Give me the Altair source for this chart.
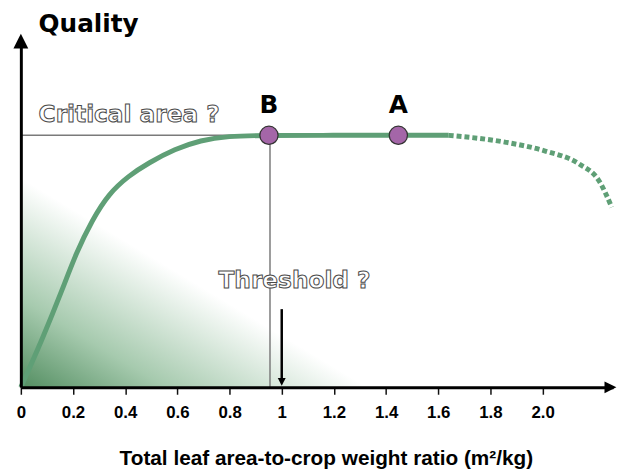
import altair as alt
import pandas as pd

# ---- data ----
solid_x = [0, 0.083, 0.159, 0.212, 0.273, 0.337, 0.413, 0.489, 0.591, 0.689, 0.792, 0.939, 1.2, 1.44, 1.64]
solid_y = [0, 0.139, 0.280, 0.385, 0.479, 0.555, 0.606, 0.643, 0.683, 0.708, 0.720, 0.722, 0.722, 0.722, 0.722]
dash_x = [1.64, 1.86, 2.01, 2.14, 2.216, 2.265]
dash_y = [0.722, 0.702, 0.677, 0.640, 0.592, 0.516]

point_names = ["B", "A"]
point_x = [0.951, 1.447]
point_y = [0.722, 0.722]
point_label_y = [0.81, 0.81]

shade_x = [0, 1.33]
shade_y = [0.60, 0]

tick_values = [0, 0.2, 0.4, 0.6, 0.8, 1.0, 1.2, 1.4, 1.6, 1.8, 2.0]
x_title = "Total leaf area-to-crop weight ratio (m²/kg)"
y_title = "Quality"
notes = ["Critical area ?", "Threshold ?"]
note_x = [0.068, 1.049]
note_y = [0.779, 0.303]

crit_y = 0.722
thresh_x = 0.955
arrow_x = 1.0
arrow_top = 0.224
arrow_head_y = 0.0156
x_max = 2.27
x_arrow = 2.26
y_arrow = 0.992
title_xy = [0.068, 1.04]

GREEN = "#5f9f76"
FONT_A = "Liberation Sans, Arial, sans-serif"
FONT_B = "DejaVu Sans"

xaxis = alt.Axis(
    values=tick_values,
    labelExpr="datum.value == 0 ? '0' : datum.value == 1 ? '1' : format(datum.value, '.1f')",
    domainColor="black", domainWidth=3,
    tickColor="#111", tickWidth=1.5, tickSize=7,
    labelFont=FONT_A, labelFontSize=17, labelFontWeight="bold", labelColor="black",
    labelPadding=11, labelFlush=False, labelOverlap=False,
    grid=False, zindex=1,
    title=x_title, titleFont=FONT_A, titleFontSize=21, titleFontWeight="bold",
    titleColor="black", titleX=308.5, titleY=78, titleBaseline="alphabetic",
)
yaxis = alt.Axis(domainColor="black", domainWidth=3, ticks=False, labels=False,
                 grid=False, title=None, zindex=1)
xs = alt.Scale(domain=[0, x_max], nice=False, zero=False)
ys = alt.Scale(domain=[0, 1], nice=False)


def X(f="x"):
    return alt.X(f"{f}:Q", scale=xs, axis=xaxis)


def Y(f="y"):
    return alt.Y(f"{f}:Q", scale=ys, axis=yaxis)


shade = alt.Chart(pd.DataFrame({"x": shade_x, "y": shade_y})).mark_area(
    color=alt.Gradient(
        gradient="linear",
        stops=[alt.GradientStop(offset=0, color="#538e61"),
               alt.GradientStop(offset=0.42, color="#a6caae"),
               alt.GradientStop(offset=1, color="#ffffff")],
        x1=0, y1=1, x2=0.5, y2=0.5),
).encode(x=X(), y=Y())

hline = alt.Chart(pd.DataFrame({"x": [0], "x2": [point_x[0]], "y": [crit_y]})).mark_rule(
    color="#7a7a7a", strokeWidth=1.5).encode(x=X(), x2="x2:Q", y=Y())
vline = alt.Chart(pd.DataFrame({"x": [thresh_x], "y": [0], "y2": [crit_y]})).mark_rule(
    color="#7a7a7a", strokeWidth=1.5).encode(x=X(), y=Y(), y2="y2:Q")

solid = alt.Chart(pd.DataFrame({"x": solid_x, "y": solid_y})).mark_line(
    color=GREEN, strokeWidth=5, interpolate="basis").encode(x=X(), y=Y())
dashed = alt.Chart(pd.DataFrame({"x": dash_x, "y": dash_y})).mark_line(
    color=GREEN, strokeWidth=5, interpolate="monotone", strokeDash=[5, 3],
    strokeCap="butt").encode(x=X(), y=Y())

pts_df = pd.DataFrame({"x": point_x, "y": point_y, "ly": point_label_y, "t": point_names})
pts = alt.Chart(pts_df).mark_point(
    shape="circle", filled=True, size=340, fill="#a466a8", stroke="#333333",
    strokeWidth=1.3, opacity=1).encode(x=X(), y=Y())
pt_labels = alt.Chart(pts_df).mark_text(
    font=FONT_B, fontWeight="bold", fontSize=25, color="black", baseline="middle").encode(
    x=X(), y=Y("ly"), text="t:N")

notes_df = pd.DataFrame({"x": note_x, "y": note_y, "t": notes})
note_left = alt.Chart(notes_df.iloc[[0]]).mark_text(
    font=FONT_B, fontWeight="bold", fontSize=23.5, fill="white", stroke="#4a4a4a",
    strokeWidth=1, align="left", baseline="middle").encode(x=X(), y=Y(), text="t:N")
note_mid = alt.Chart(notes_df.iloc[[1]]).mark_text(
    font=FONT_B, fontWeight="bold", fontSize=23.5, fill="white", stroke="#4a4a4a",
    strokeWidth=1, align="center", baseline="middle").encode(x=X(), y=Y(), text="t:N")

arrow_shaft = alt.Chart(pd.DataFrame({"x": [arrow_x], "y": [arrow_top], "y2": [arrow_head_y]})).mark_rule(
    color="black", strokeWidth=2.5).encode(x=X(), y=Y(), y2="y2:Q")
arrow_head = alt.Chart(pd.DataFrame({"x": [arrow_x], "y": [arrow_head_y]})).mark_point(
    shape="M-1,-1L1,-1L0,1Z", filled=True, size=64, color="black", opacity=1).encode(x=X(), y=Y())

x_head = alt.Chart(pd.DataFrame({"x": [x_arrow], "y": [0]})).mark_point(
    shape="M-1,-1L1,0L-1,1Z", filled=True, size=144, color="black", opacity=1).encode(x=X(), y=Y())
y_head = alt.Chart(pd.DataFrame({"x": [0], "y": [y_arrow]})).mark_point(
    shape="M-1,1L0,-1L1,1Z", filled=True, size=225, color="black", opacity=1).encode(x=X(), y=Y())

ytitle = alt.Chart(pd.DataFrame({"x": [title_xy[0]], "y": [title_xy[1]], "t": [y_title]})).mark_text(
    font=FONT_B, fontWeight="bold", fontSize=25, color="black", align="left",
    baseline="middle").encode(x=X(), y=Y(), text="t:N")

chart = alt.layer(
    shade, hline, vline, solid, dashed, pts, pt_labels, note_left, note_mid,
    arrow_shaft, arrow_head, x_head, y_head, ytitle,
).properties(
    width=599, height=353,
    padding={"left": 13, "top": 28, "right": 5, "bottom": 85},
    autosize=alt.AutoSizeParams(type="none"),
    background="white",
).configure_view(stroke=None)

chart.save("out.html", embed_options={"renderer": "svg", "actions": False})
